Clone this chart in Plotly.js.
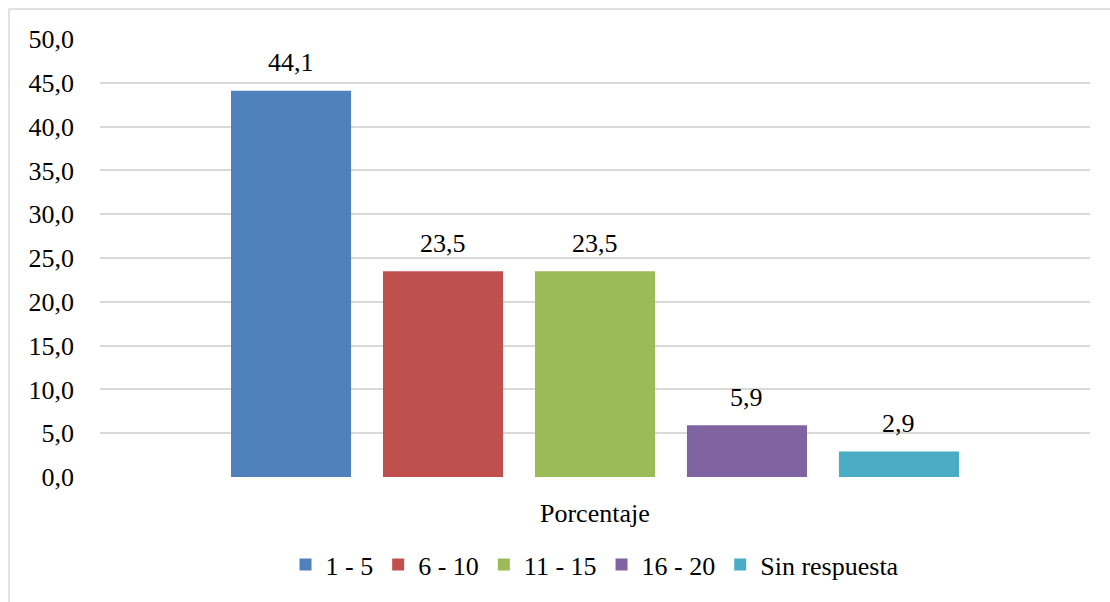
<!DOCTYPE html>
<html>
<head>
<meta charset="utf-8">
<script src="https://cdn.plot.ly/plotly-3.0.1.min.js"></script>
<style>
#chart text { font-family: 'Liberation Serif', 'Times New Roman', Tinos, serif !important; }
</style>
</head>
<body style="margin:0;background:#fff">
<div id="chart" style="width:1110px;height:602px"></div>
<script>
const seriesNames = ['1 - 5', '6 - 10', '11 - 15', '16 - 20', 'Sin respuesta'];
const values = [44.1, 23.5, 23.5, 5.9, 2.9];
const colors = ['#4f81bd', '#c0504d', '#9bbb59', '#8064a2', '#4bacc6'];
const categoryLabel = 'Porcentaje';
const yTicks = [0, 5, 10, 15, 20, 25, 30, 35, 40, 45, 50];

const FONT = 'Liberation Serif';
const FS = 26;
const fmt = v => v.toFixed(1).replace('.', ',');

const traces = seriesNames.map((name, i) => ({
  type: 'bar',
  name: name,
  x: [name],
  y: [values[i]],
  marker: {color: colors[i]},
  width: 0.79,
  hoverinfo: 'skip'
}));

const annotations = seriesNames.map((name, i) => ({
  x: name, y: values[i], xref: 'x', yref: 'y',
  text: fmt(values[i]), showarrow: false,
  yanchor: 'middle', yshift: 28,
  font: {family: FONT, size: FS, color: '#000'}
}));
annotations.push({
  xref: 'paper', yref: 'paper', x: 0.5, y: 0, yanchor: 'middle', yshift: -36,
  text: categoryLabel, showarrow: false,
  font: {family: FONT, size: FS, color: '#000'}
});

const layout = {
  width: 1110, height: 602,
  margin: {l: 100, r: 20, t: 39, b: 125},
  paper_bgcolor: '#fff', plot_bgcolor: '#fff',
  separators: ',.',
  font: {family: FONT, size: FS, color: '#000'},
  barmode: 'overlay',
  showlegend: true,
  legend: {
    orientation: 'h', x: 0.5, xanchor: 'center', y: -0.2, yanchor: 'middle',
    font: {family: FONT, size: FS, color: '#000'},
    itemwidth: 30, traceorder: 'normal'
  },
  xaxis: {
    type: 'category', range: [-1.257, 5.257],
    showticklabels: false, showgrid: false, zeroline: false, showline: false, ticks: ''
  },
  yaxis: {
    range: [0, 50], tickvals: yTicks, tickformat: '.1f',
    showgrid: true, gridcolor: '#d9d9d9', gridwidth: 1.5,
    zeroline: false, showline: false, ticks: '', ticklabelstandoff: 25,
    tickfont: {family: FONT, size: FS, color: '#000'}
  },
  annotations: annotations,
  shapes: [{
    type: 'rect', xref: 'paper', yref: 'paper',
    x0: -0.0919, x1: 1.2, y0: -0.4, y1: 1.0685,
    line: {color: '#d9d9d9', width: 1.5}, fillcolor: 'rgba(0,0,0,0)', layer: 'below'
  }]
};

Plotly.newPlot('chart', traces, layout, {displayModeBar: false});
</script>
</body>
</html>
